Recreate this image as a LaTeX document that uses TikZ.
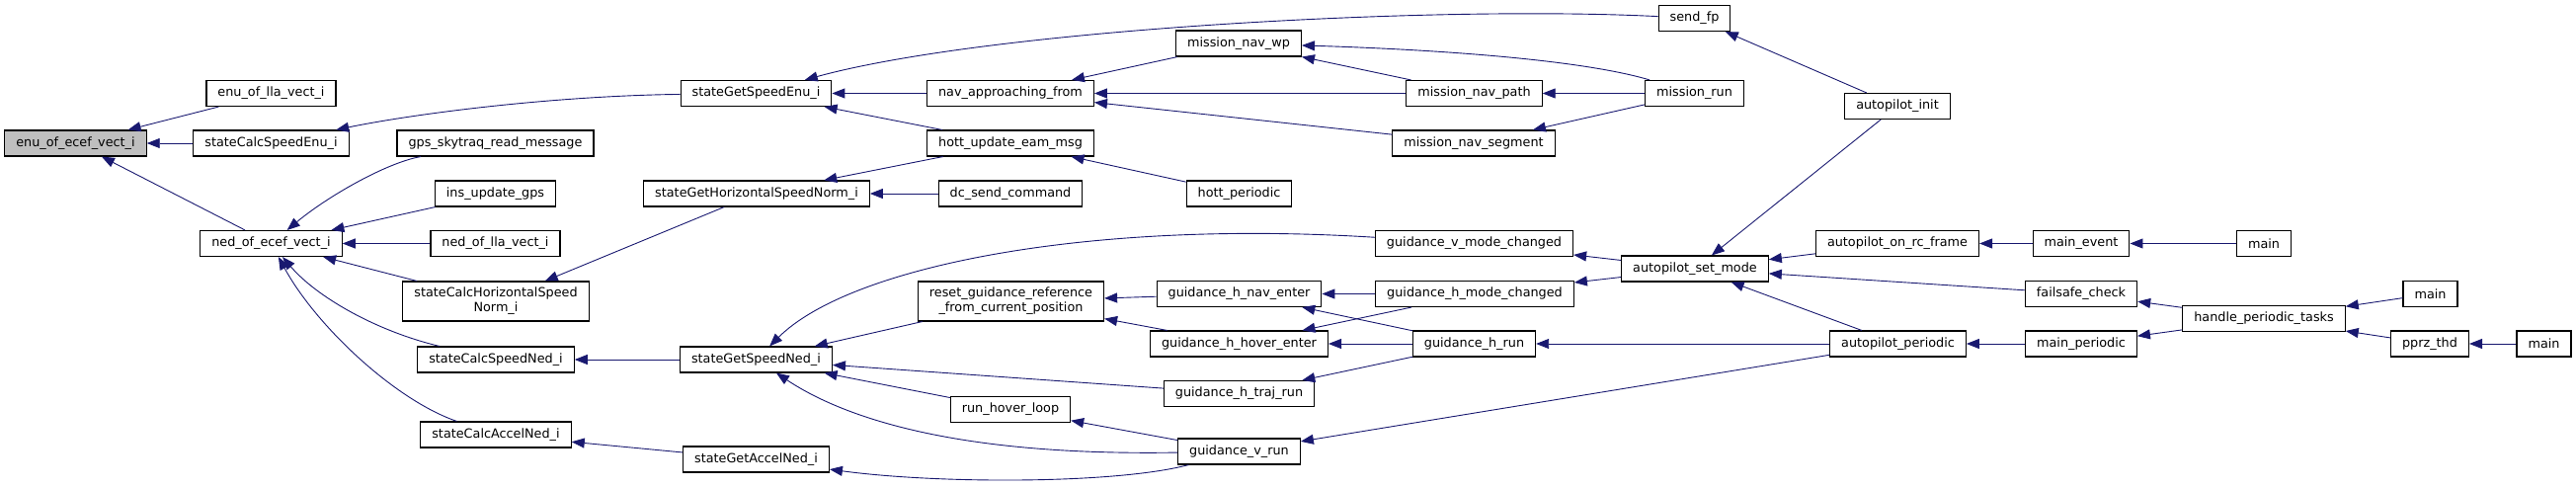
\documentclass[tikz,border=0pt]{standalone}
\usepackage{fontspec}
\setmainfont{DejaVu Sans}
\usetikzlibrary{arrows.meta}
\definecolor{edgeblue}{HTML}{191970}

\begin{document}
\begin{tikzpicture}[x=1pt, y=-1pt,
    fn/.style={draw, line width=1.1pt, fill=white, inner xsep=11.5pt, inner ysep=2pt,
      minimum height=26pt, align=center,
      font=\fontsize{12.8}{15}\selectfont},
    fnsel/.style={fn, fill=black!25},
    call/.style={draw=edgeblue, line width=0.9pt},
    >={Triangle[length=13pt, width=10pt, fill=edgeblue]}]
    \useasboundingbox (0,0) rectangle (2608,493);
    % columns, left to right
    \node[fnsel] (eoev) at (76.5,145) {enu\_of\_ecef\_vect\_i};
    \node[fn] (eolv) at (274.5,94.5) {enu\_of\_lla\_vect\_i};
    \node[fn] (scse) at (274.5,145) {stateCalcSpeedEnu\_i};
    \node[fn] (noev) at (274.5,246.5) {ned\_of\_ecef\_vect\_i};
    \node[fn] (gsrm) at (501.5,145) {gps\_skytraq\_read\_message};
    \node[fn] (iug) at (501.5,196) {ins\_update\_gps};
    \node[fn] (nolv) at (501.5,246.5) {ned\_of\_lla\_vect\_i};
    \node[fn, minimum height=40pt] (schs) at (502,305) {stateCalcHorizontalSpeed\\Norm\_i};
    \node[fn] (scsn) at (502,364) {stateCalcSpeedNed\_i};
    \node[fn] (scan) at (502,440) {stateCalcAccelNed\_i};
    \node[fn] (sgse) at (765.5,94.5) {stateGetSpeedEnu\_i};
    \node[fn] (sghs) at (766,196) {stateGetHorizontalSpeedNorm\_i};
    \node[fn] (sgsn) at (765.5,364) {stateGetSpeedNed\_i};
    \node[fn] (sgan) at (765.5,465) {stateGetAccelNed\_i};
    \node[fn] (naf) at (1023,94.5) {nav\_approaching\_from};
    \node[fn] (hue) at (1023,145) {hott\_update\_eam\_msg};
    \node[fn] (dsc) at (1023,196) {dc\_send\_command};
    \node[fn, minimum height=40pt] (rgr) at (1023.5,305) {reset\_guidance\_reference\\\_from\_current\_position};
    \node[fn] (rhl) at (1023,414.5) {run\_hover\_loop};
    \node[fn] (mnw) at (1254,44) {mission\_nav\_wp};
    \node[fn] (hp) at (1254.5,196) {hott\_periodic};
    \node[fn] (ghne) at (1254.5,297.5) {guidance\_h\_nav\_enter};
    \node[fn] (ghhe) at (1254.5,348) {guidance\_h\_hover\_enter};
    \node[fn] (ghtr) at (1254.5,398.5) {guidance\_h\_traj\_run};
    \node[fn] (gvr) at (1254.5,457) {guidance\_v\_run};
    \node[fn] (mnp) at (1492.5,94.5) {mission\_nav\_path};
    \node[fn] (mns) at (1492,145) {mission\_nav\_segment};
    \node[fn] (gvmc) at (1492.5,246.5) {guidance\_v\_mode\_changed};
    \node[fn] (ghmc) at (1493,297.5) {guidance\_h\_mode\_changed};
    \node[fn] (ghr) at (1492.5,348) {guidance\_h\_run};
    \node[fn] (sfp) at (1715.5,18.5) {send\_fp};
    \node[fn] (mr) at (1715.5,94.5) {mission\_run};
    \node[fn] (asm) at (1716,272) {autopilot\_set\_mode};
    \node[fn] (ai) at (1921,107.5) {autopilot\_init};
    \node[fn] (aorf) at (1921,246.5) {autopilot\_on\_rc\_frame};
    \node[fn] (ap) at (1921.5,348) {autopilot\_periodic};
    \node[fn] (me) at (2107,246.5) {main\_event};
    \node[fn] (fc) at (2107,297.5) {failsafe\_check};
    \node[fn] (mp) at (2107,348) {main\_periodic};
    \node[fn] (hpt) at (2292,322.5) {handle\_periodic\_tasks};
    \node[fn] (m1) at (2292,246.5) {main};
    \node[fn] (m2) at (2460.5,297.5) {main};
    \node[fn] (pt) at (2460,348) {pprz\_thd};
    \node[fn] (m3) at (2575.5,348) {main};
    % callers
    \draw[call, <-] (eoev) -- (eolv);
    \draw[call, <-] (eoev) -- (scse);
    \draw[call, <-] (eoev) -- (noev);
    \draw[call, <-] (scse) .. controls (420,115) and (560,97) .. (sgse);
    \draw[call, <-] (noev) .. controls (330,200) and (390,165) .. (gsrm);
    \draw[call, <-] (noev) -- (iug);
    \draw[call, <-] (noev) -- (nolv);
    \draw[call, <-] (noev) -- (schs);
    \draw[call, <-] (noev) .. controls (320,300) and (380,335) .. (scsn);
    \draw[call, <-] (noev) .. controls (320,330) and (400,405) .. (scan);
    \draw[call, <-] (schs) -- (sghs);
    \draw[call, <-] (scsn) -- (sgsn);
    \draw[call, <-] (scan) -- (sgan);
    \draw[call, <-] (sgse) .. controls (1000,30) and (1450,5) .. (sfp);
    \draw[call, <-] (sgse) -- (naf);
    \draw[call, <-] (sgse) -- (hue);
    \draw[call, <-] (sghs) -- (hue);
    \draw[call, <-] (sghs) -- (dsc);
    \draw[call, <-] (naf) -- (mnw);
    \draw[call, <-] (naf) -- (mnp);
    \draw[call, <-] (naf) -- (mns);
    \draw[call, <-] (hue) -- (hp);
    \draw[call, <-] (mnw) -- (mnp);
    \draw[call, <-] (mnw) .. controls (1450,50) and (1600,60) .. (mr);
    \draw[call, <-] (mnp) -- (mr);
    \draw[call, <-] (mns) -- (mr);
    \draw[call, <-] (sfp) -- (ai);
    \draw[call, <-] (sgsn) .. controls (860,270) and (1100,222) .. (gvmc);
    \draw[call, <-] (sgsn) -- (rgr);
    \draw[call, <-] (sgsn) -- (ghtr);
    \draw[call, <-] (sgsn) -- (rhl);
    \draw[call, <-] (sgsn) .. controls (850,420) and (960,462) .. (gvr);
    \draw[call, <-] (sgan) .. controls (950,490) and (1130,490) .. (gvr);
    \draw[call, <-] (rgr) -- (ghne);
    \draw[call, <-] (rgr) -- (ghhe);
    \draw[call, <-] (rhl) -- (gvr);
    \draw[call, <-] (ghne) -- (ghmc);
    \draw[call, <-] (ghne) -- (ghr);
    \draw[call, <-] (ghhe) -- (ghmc);
    \draw[call, <-] (ghhe) -- (ghr);
    \draw[call, <-] (ghtr) -- (ghr);
    \draw[call, <-] (gvr) -- (ap);
    \draw[call, <-] (gvmc) -- (asm);
    \draw[call, <-] (ghmc) -- (asm);
    \draw[call, <-] (ghr) -- (ap);
    \draw[call, <-] (asm) -- (ai);
    \draw[call, <-] (asm) -- (aorf);
    \draw[call, <-] (asm) -- (fc);
    \draw[call, <-] (asm) -- (ap);
    \draw[call, <-] (aorf) -- (me);
    \draw[call, <-] (me) -- (m1);
    \draw[call, <-] (fc) -- (hpt);
    \draw[call, <-] (ap) -- (mp);
    \draw[call, <-] (mp) -- (hpt);
    \draw[call, <-] (hpt) -- (m2);
    \draw[call, <-] (hpt) -- (pt);
    \draw[call, <-] (pt) -- (m3);
\end{tikzpicture}
\end{document}
